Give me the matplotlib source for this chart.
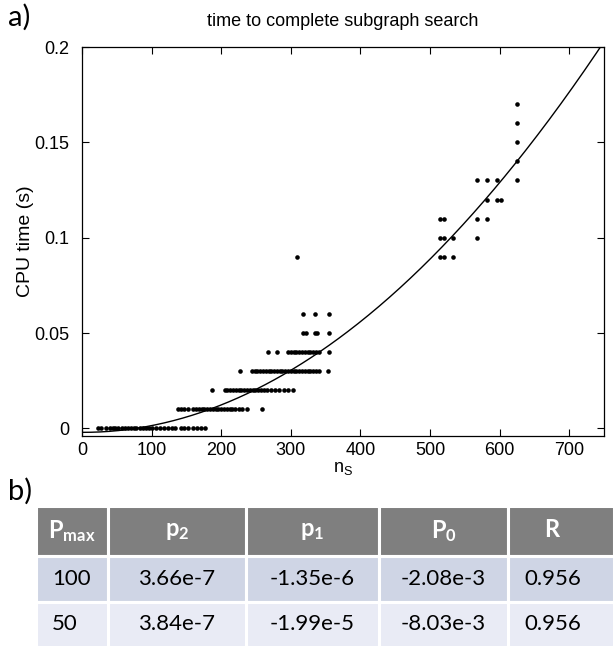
import matplotlib
matplotlib.use("Agg")
import matplotlib.pyplot as plt
from matplotlib.patches import Rectangle
import numpy as np

plt.rcParams.update({
    "font.family": "Liberation Sans",
    "mathtext.fontset": "custom",
    "mathtext.rm": "Lato",
    "mathtext.bf": "Lato:bold",
    "mathtext.it": "Lato:italic",
})

# CPU time levels (s) and the subgraph sizes n_S observed at each level
cpu_levels = [0.0, 0.01, 0.02, 0.03, 0.04, 0.05, 0.06, 0.09, 0.10, 0.11,
              0.12, 0.13, 0.14, 0.15, 0.16, 0.17]
ns_000 = [23, 28, 35, 40, 45, 48, 52, 57, 62, 66, 70, 74, 78, 83, 88, 92, 96,
          100, 106, 112, 118, 124, 129, 133, 142, 147, 152, 160, 165, 171, 177]
ns_001 = [138, 142, 147, 152, 160, 164, 168, 172, 176, 180, 184, 188, 192,
          196, 200, 204, 208, 212, 216, 220, 225, 230, 237, 259]
ns_002 = [187, 205, 209, 213, 217, 221, 225, 229, 233, 237, 241, 245, 249,
          253, 257, 261, 266, 271, 277, 283, 290, 296, 303]
ns_003 = [227, 244, 248, 252, 256, 260, 264, 268, 272, 276, 280, 284, 288,
          292, 296, 300, 304, 308, 312, 316, 320, 324, 328, 332, 336, 340, 353]
ns_004 = [267, 280, 296, 300, 304, 308, 312, 316, 320, 324, 328, 332, 336,
          341, 355]
ns_005 = [318, 322, 335, 338, 355]
ns_006 = [318, 335, 355]
ns_009 = [309, 514, 520, 533]
ns_010 = [514, 520, 533, 568]
ns_011 = [514, 520, 568, 582]
ns_012 = [582, 596, 602]
ns_013 = [568, 582, 596, 625]
ns_014 = [625]
ns_015 = [625]
ns_016 = [625]
ns_017 = [625]
ns_groups = [ns_000, ns_001, ns_002, ns_003, ns_004, ns_005, ns_006, ns_009,
             ns_010, ns_011, ns_012, ns_013, ns_014, ns_015, ns_016, ns_017]

# quadratic fit coefficients (table b)
pmax_vals = ["100", "50"]
p2_vals = [3.66e-7, 3.84e-7]
p1_vals = [-1.35e-6, -1.99e-5]
p0_vals = [-2.08e-3, -8.03e-3]
r_vals = [0.956, 0.956]
header_labels = [r"$\mathbf{P_{max}}$", r"$\mathbf{p_2}$", r"$\mathbf{p_1}$",
                 r"$\mathbf{P_0}$", r"$\mathbf{R}$"]

ns = np.concatenate([np.asarray(g, float) for g in ns_groups])
cpu = np.concatenate([np.full(len(g), lv) for g, lv in zip(ns_groups, cpu_levels)])

W, H = 614, 647
fig = plt.figure(figsize=(W / 100, H / 100), dpi=100)

# ---- panel a) ----
ax = fig.add_axes([82 / W, 1 - 436 / H, (604 - 82) / W, (436 - 47) / H])
ax.plot(ns, cpu, "o", color="black", markersize=3.3, markeredgewidth=0)
xfit = np.linspace(0, 750, 400)
yfit = p2_vals[0] * xfit ** 2 + p1_vals[0] * xfit + p0_vals[0]
ax.plot(xfit, yfit, color="black", linewidth=1.0)
ax.set_xlim(0, 750)
ax.set_ylim(-0.004, 0.2)
ax.set_xticks(np.arange(0, 701, 100))
ax.set_yticks([0, 0.05, 0.1, 0.15, 0.2])
ax.set_yticklabels(["0", "0.05", "0.1", "0.15", "0.2"])
ax.tick_params(direction="in", top=True, right=True, length=5, width=0.8,
               labelsize=13)
ax.tick_params(axis="y", pad=9)
ax.tick_params(axis="x", pad=4)
for sp in ax.spines.values():
    sp.set_linewidth(0.9)
ax.set_title("time to complete subgraph search", fontsize=13, pad=15)
ax.set_ylabel("CPU time (s)", fontsize=14, labelpad=0.5)
ax.set_xlabel(r"$\mathregular{n_S}$", fontsize=13, labelpad=1)

fig.text(8 / W, 1 - 17 / H, "a)", fontsize=21, family="Lato", va="center")
fig.text(8 / W, 1 - 491 / H, "b)", fontsize=21, family="Lato", va="center")

# ---- panel b) table ----
tab = fig.add_axes([36 / W, 0, (W - 36) / W, (H - 506) / H])
tab.set_xlim(0, W - 36)
tab.set_ylim(H - 506, 0)
tab.axis("off")
col_edges = [0, 72, 210, 343, 472, W - 36]
row_edges = [0, 50, 96, H - 506]
row_colors = ["#7F7F7F", "#CFD5E5", "#E9EBF5"]

body = [pmax_vals,
        [f"{v:.2e}".replace("e-0", "e-") for v in p2_vals],
        [f"{v:.2e}".replace("e-0", "e-") for v in p1_vals],
        [f"{v:.2e}".replace("e-0", "e-") for v in p0_vals],
        [f"{v:.3f}" for v in r_vals]]

for r in range(3):
    for c in range(5):
        x0, x1 = col_edges[c], col_edges[c + 1]
        y0, y1 = row_edges[r], row_edges[r + 1]
        tab.add_patch(Rectangle((x0, y0), x1 - x0, y1 - y0,
                                facecolor=row_colors[r], edgecolor="white",
                                linewidth=2.2))
        cx = (x0 + x1) / 2 - (8 if c == 4 else 0)
        ty = (y0 + y1) / 2
        if r == 0:
            tab.text(cx, ty, header_labels[c], color="white", fontsize=17,
                     ha="center", va="center")
        elif c == 0:
            tab.text(x0 + 16, ty, body[c][r - 1], color="black", fontsize=16,
                     family="Lato", ha="left", va="center")
        else:
            tab.text(cx, ty, body[c][r - 1], color="black", fontsize=16,
                     family="Lato", ha="center", va="center")

fig.savefig("out.png", dpi=100)
